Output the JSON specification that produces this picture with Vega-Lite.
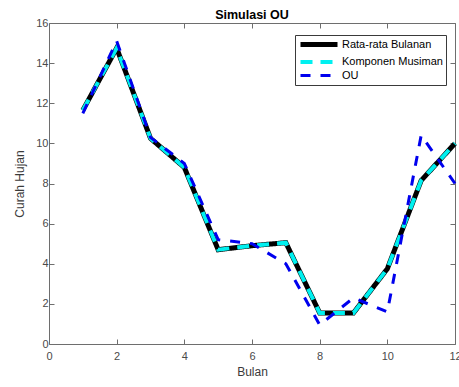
{
  "$schema": "https://vega.github.io/schema/vega-lite/v6.json",
  "width": 406,
  "height": 321,
  "autosize": "none",
  "padding": {"left": 49, "top": 23, "right": 4, "bottom": 43},
  "background": "white",
  "title": {
    "text": "Simulasi OU",
    "fontSize": 12.5,
    "fontWeight": "bold",
    "font": "Liberation Sans",
    "color": "#000000",
    "anchor": "middle",
    "offset": -4
  },
  "config": {
    "view": {"stroke": null},
    "font": "Liberation Sans",
    "axis": {
      "grid": false,
      "domainColor": "#6e6e6e",
      "domainWidth": 1,
      "tickColor": "#6e6e6e",
      "tickSize": -5,
      "labelFlush": false,
      "labelFont": "Liberation Sans",
      "labelFontSize": 11,
      "labelColor": "#4a4a4a",
      "titleFont": "Liberation Sans",
      "titleFontSize": 12,
      "titleFontWeight": "normal",
      "titleColor": "#3a3a3a"
    },
    "legend": {
      "orient": "none",
      "legendX": 246,
      "legendY": 12,
      "strokeColor": "#3a3a3a",
      "fillColor": "white",
      "padding": 3,
      "symbolType": "M-1,0H8.25",
      "symbolSize": 64,
      "labelFont": "Liberation Sans",
      "labelFontSize": 11,
      "labelColor": "#000000",
      "labelOffset": 31,
      "rowPadding": -1
    }
  },
  "data": {
    "values": [
      {"bulan": 1, "nilai": 11.65, "seri": "Rata-rata Bulanan"},
      {"bulan": 2, "nilai": 14.75, "seri": "Rata-rata Bulanan"},
      {"bulan": 3, "nilai": 10.25, "seri": "Rata-rata Bulanan"},
      {"bulan": 4, "nilai": 8.8, "seri": "Rata-rata Bulanan"},
      {"bulan": 5, "nilai": 4.7, "seri": "Rata-rata Bulanan"},
      {"bulan": 6, "nilai": 4.9, "seri": "Rata-rata Bulanan"},
      {"bulan": 7, "nilai": 5.05, "seri": "Rata-rata Bulanan"},
      {"bulan": 8, "nilai": 1.55, "seri": "Rata-rata Bulanan"},
      {"bulan": 9, "nilai": 1.55, "seri": "Rata-rata Bulanan"},
      {"bulan": 10, "nilai": 3.75, "seri": "Rata-rata Bulanan"},
      {"bulan": 11, "nilai": 8.15, "seri": "Rata-rata Bulanan"},
      {"bulan": 12, "nilai": 10.0, "seri": "Rata-rata Bulanan"},
      {"bulan": 1, "nilai": 11.65, "seri": "Komponen Musiman"},
      {"bulan": 2, "nilai": 14.75, "seri": "Komponen Musiman"},
      {"bulan": 3, "nilai": 10.25, "seri": "Komponen Musiman"},
      {"bulan": 4, "nilai": 8.8, "seri": "Komponen Musiman"},
      {"bulan": 5, "nilai": 4.7, "seri": "Komponen Musiman"},
      {"bulan": 6, "nilai": 4.9, "seri": "Komponen Musiman"},
      {"bulan": 7, "nilai": 5.05, "seri": "Komponen Musiman"},
      {"bulan": 8, "nilai": 1.55, "seri": "Komponen Musiman"},
      {"bulan": 9, "nilai": 1.55, "seri": "Komponen Musiman"},
      {"bulan": 10, "nilai": 3.75, "seri": "Komponen Musiman"},
      {"bulan": 11, "nilai": 8.15, "seri": "Komponen Musiman"},
      {"bulan": 12, "nilai": 10.0, "seri": "Komponen Musiman"},
      {"bulan": 1, "nilai": 11.5, "seri": "OU"},
      {"bulan": 2, "nilai": 15.1, "seri": "OU"},
      {"bulan": 3, "nilai": 10.3, "seri": "OU"},
      {"bulan": 4, "nilai": 9.0, "seri": "OU"},
      {"bulan": 5, "nilai": 5.2, "seri": "OU"},
      {"bulan": 6, "nilai": 5.0, "seri": "OU"},
      {"bulan": 7, "nilai": 4.0, "seri": "OU"},
      {"bulan": 8, "nilai": 0.95, "seri": "OU"},
      {"bulan": 9, "nilai": 2.3, "seri": "OU"},
      {"bulan": 10, "nilai": 1.6, "seri": "OU"},
      {"bulan": 11, "nilai": 10.4, "seri": "OU"},
      {"bulan": 12, "nilai": 8.0, "seri": "OU"}
    ]
  },
  "encoding": {
    "x": {"field": "bulan", "type": "quantitative", "scale": {"domain": [0, 12], "nice": false, "zero": false}},
    "y": {"field": "nilai", "type": "quantitative", "scale": {"domain": [0, 16], "nice": false}}
  },
  "layer": [
    {
      "mark": {"type": "line", "strokeCap": "butt", "strokeJoin": "miter"},
      "encoding": {
        "x": {"field": "bulan", "type": "quantitative", "axis": {"title": "Bulan", "values": [0, 2, 4, 6, 8, 10, 12], "labelPadding": 11, "titlePadding": 5}},
        "y": {"field": "nilai", "type": "quantitative", "axis": {"title": "Curah Hujan", "values": [0, 2, 4, 6, 8, 10, 12, 14, 16], "labelPadding": 6, "titlePadding": 9}},
        "color": {
          "field": "seri", "type": "nominal",
          "scale": {"domain": ["Rata-rata Bulanan", "Komponen Musiman", "OU"], "range": ["#000000", "#00f0f0", "#0000ee"]},
          "legend": {"title": null}
        },
        "strokeDash": {
          "field": "seri", "type": "nominal",
          "scale": {"domain": ["Rata-rata Bulanan", "Komponen Musiman", "OU"], "range": [[1, 0], [12, 8], [10, 10]]},
          "legend": {"title": null}
        },
        "strokeWidth": {
          "field": "seri", "type": "nominal",
          "scale": {"type": "ordinal", "domain": ["Rata-rata Bulanan", "Komponen Musiman", "OU"], "range": [5, 4, 3]},
          "legend": {"title": null}
        }
      }
    },
    {
      "mark": {"type": "line", "opacity": 0},
      "encoding": {
        "x": {"field": "bulan", "type": "quantitative", "axis": {"orient": "top", "title": null, "labels": false, "values": [0, 2, 4, 6, 8, 10, 12]}},
        "y": {"field": "nilai", "type": "quantitative", "axis": {"orient": "right", "title": null, "labels": false, "values": [0, 2, 4, 6, 8, 10, 12, 14, 16]}},
        "detail": {"field": "seri", "type": "nominal"}
      }
    }
  ],
  "resolve": {"axis": {"x": "independent", "y": "independent"}}
}
